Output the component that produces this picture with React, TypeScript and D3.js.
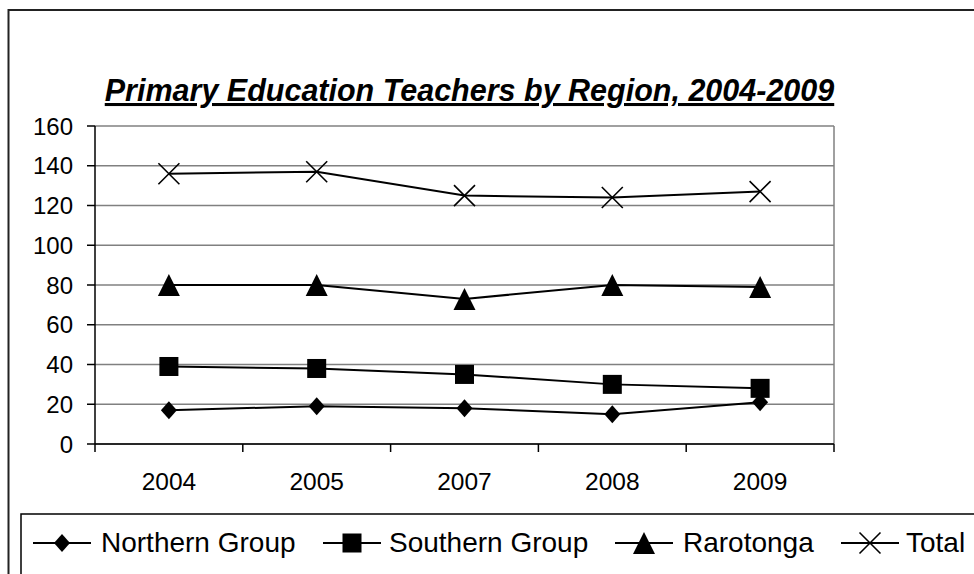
import React from "react";
import * as d3 from "d3";

const categories = ["2004", "2005", "2007", "2008", "2009"];
const northern = [17, 19, 18, 15, 21];
const southern = [39, 38, 35, 30, 28];
const rarotonga = [80, 80, 73, 80, 79];
const total = [136, 137, 125, 124, 127];
const yTicks = [0, 20, 40, 60, 80, 100, 120, 140, 160];
const seriesNames = ["Northern Group", "Southern Group", "Rarotonga", "Total"];
const title = "Primary Education Teachers by Region, 2004-2009";

const W = 974, H = 574;
const plot = { left: 95, right: 834, top: 126, bottom: 444 };
const FONT = "'Liberation Sans', Arial, sans-serif";

function Marker({ type, x, y }: { type: string; x: number; y: number }) {
  if (type === "diamond") {
    const rx = 8, ry = 9;
    return <path d={`M${x},${y - ry}L${x + rx},${y}L${x},${y + ry}L${x - rx},${y}Z`} fill="#000" />;
  }
  if (type === "square") {
    const s = 9.5;
    return <rect x={x - s} y={y - s} width={2 * s} height={2 * s} fill="#000" />;
  }
  if (type === "triangle") {
    return <path d={`M${x},${y - 11}L${x + 11},${y + 11}L${x - 11},${y + 11}Z`} fill="#000" />;
  }
  const r = 10.5;
  return (
    <path d={`M${x - r},${y - r}L${x + r},${y + r}M${x - r},${y + r}L${x + r},${y - r}`} stroke="#000" strokeWidth={1.6} fill="none" />
  );
}

export default function App() {
  const x = d3.scaleBand<string>().domain(categories).range([plot.left, plot.right]);
  const y = d3.scaleLinear().domain([0, 160]).range([plot.bottom, plot.top]);
  const series = [
    { name: seriesNames[0], values: northern, marker: "diamond" },
    { name: seriesNames[1], values: southern, marker: "square" },
    { name: seriesNames[2], values: rarotonga, marker: "triangle" },
    { name: seriesNames[3], values: total, marker: "x" },
  ];
  const cx = (i: number) => (x(categories[i]) as number) + x.bandwidth() / 2;
  const line = d3
    .line<number>()
    .x((_, i) => cx(i))
    .y((d) => y(d));
  const boundaries = [...categories.map((c) => x(c) as number), plot.right];
  const legendY = 543;
  const legendItems = [
    { mx: 62, tx: 101 },
    { mx: 352, tx: 389 },
    { mx: 644, tx: 683 },
    { mx: 870, tx: 906 },
  ];

  return (
    <svg width={W} height={H} style={{ position: "absolute", left: 0, top: 0, background: "#fff" }}>
      <rect x={0} y={0} width={W} height={H} fill="#fff" />
      <rect x={8.5} y={10} width={W + 10} height={H + 10} fill="none" stroke="#222" strokeWidth={2} />
      <text x={469.5} y={101} textAnchor="middle" fontFamily={FONT} fontSize={30.5} fontWeight="bold" fontStyle="italic" textDecoration="underline">
        {title}
      </text>
      {yTicks.map((t) => (
        <line key={t} x1={plot.left} x2={plot.right} y1={y(t)} y2={y(t)} stroke="#808080" strokeWidth={1.5} />
      ))}
      <line x1={plot.right} x2={plot.right} y1={plot.top} y2={plot.bottom} stroke="#808080" strokeWidth={1.5} />
      <line x1={plot.left} x2={plot.left} y1={plot.top} y2={plot.bottom} stroke="#000" strokeWidth={1.5} />
      <line x1={plot.left} x2={plot.right} y1={plot.bottom} y2={plot.bottom} stroke="#000" strokeWidth={1.5} />
      {yTicks.map((t) => (
        <g key={t}>
          <line x1={plot.left - 8} x2={plot.left} y1={y(t)} y2={y(t)} stroke="#000" strokeWidth={1.5} />
          <text x={73} y={y(t)} dy="0.36em" textAnchor="end" fontFamily={FONT} fontSize={24}>
            {t}
          </text>
        </g>
      ))}
      {boundaries.map((b, i) => (
        <line key={i} x1={b} x2={b} y1={plot.bottom} y2={plot.bottom + 8} stroke="#000" strokeWidth={1.5} />
      ))}
      {categories.map((c, i) => (
        <text key={c} x={cx(i)} y={489.5} textAnchor="middle" fontFamily={FONT} fontSize={24.5}>
          {c}
        </text>
      ))}
      {series.map((s) => (
        <g key={s.name}>
          <path d={line(s.values) || ""} fill="none" stroke="#000" strokeWidth={2} />
          {s.values.map((v, i) => (
            <Marker key={i} type={s.marker} x={cx(i)} y={y(v)} />
          ))}
        </g>
      ))}
      <rect x={21} y={514} width={W + 10} height={H} fill="#fff" stroke="#000" strokeWidth={1.5} />
      {series.map((s, i) => (
        <g key={s.name}>
          <line x1={legendItems[i].mx - 29} x2={legendItems[i].mx + 29} y1={legendY} y2={legendY} stroke="#000" strokeWidth={2} />
          <Marker type={s.marker} x={legendItems[i].mx} y={legendY} />
          <text x={legendItems[i].tx} y={552} fontFamily={FONT} fontSize={28}>
            {s.name}
          </text>
        </g>
      ))}
    </svg>
  );
}
